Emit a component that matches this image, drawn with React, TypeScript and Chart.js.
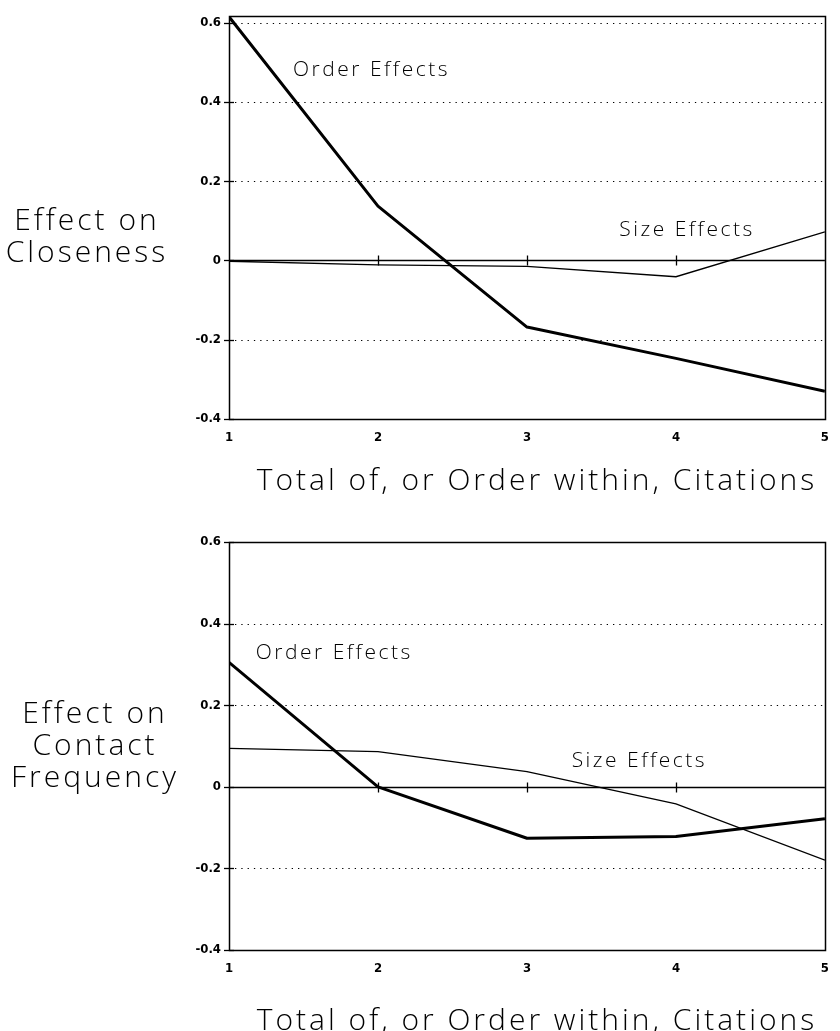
import React, { useEffect, useRef } from "react";
import { Chart, registerables } from "chart.js";

Chart.register(...registerables);

// ---- data ----
const citations = [1, 2, 3, 4, 5];
const yTickValues = [-0.4, -0.2, 0, 0.2, 0.4, 0.6];
const xTickValues = [1, 2, 3, 4, 5];
const seriesNames = ["Order Effects", "Size Effects"];
const closenessOrder = [0.615, 0.137, -0.168, -0.247, -0.33];
const closenessSize = [-0.002, -0.011, -0.015, -0.041, 0.072];
const contactOrder = [0.305, 0.0, -0.126, -0.122, -0.078];
const contactSize = [0.094, 0.086, 0.037, -0.042, -0.18];
const xTitle = "Total of, or Order within, Citations";
const closenessTitle = ["Effect on", "Closeness"];
const contactTitle = ["Effect on", "Contact", "Frequency"];

const TITLE_FONT = '300 30px "Open Sans", "DejaVu Sans", sans-serif';
const NOTE_FONT = '300 21px "Open Sans", "DejaVu Sans", sans-serif';
const TICK_FAMILY = '"DejaVu Sans Condensed", "Liberation Sans Narrow", "DejaVu Sans", sans-serif';

type Note = { text: string; x: number; y: number };
type Panel = {
  top: number;
  height: number;
  padTop: number;
  axisHeight: number;
  yMax: number;
  order: number[];
  size: number[];
  yTitle: string[];
  yTitleCenter: number;
  yTitleFirstBaseline: number;
  xTitleBaseline: number;
  notes: Note[];
};

const panels: Panel[] = [
  {
    top: 0,
    height: 515,
    padTop: 10,
    axisHeight: 96,
    yMax: 0.6174,
    order: closenessOrder,
    size: closenessSize,
    yTitle: closenessTitle,
    yTitleCenter: 87,
    yTitleFirstBaseline: 230,
    xTitleBaseline: 490,
    notes: [
      { text: seriesNames[0], x: 1.43, y: 0.465 },
      { text: seriesNames[1], x: 3.62, y: 0.062 },
    ],
  },
  {
    top: 515,
    height: 516,
    padTop: 27,
    axisHeight: 81,
    yMax: 0.6,
    order: contactOrder,
    size: contactSize,
    yTitle: contactTitle,
    yTitleCenter: 95,
    yTitleFirstBaseline: 208,
    xTitleBaseline: 515,
    notes: [
      { text: seriesNames[0], x: 1.18, y: 0.313 },
      { text: seriesNames[1], x: 3.3, y: 0.049 },
    ],
  },
];

function fmt(v: number): string {
  if (Math.abs(v) < 1e-9) return "0";
  return v.toFixed(1);
}

function makeFramePlugin(panel: Panel) {
  return {
    id: "frame",
    beforeDatasetsDraw(chart: any) {
      const ctx = chart.ctx as CanvasRenderingContext2D;
      const { left, right, top, bottom } = chart.chartArea;
      const xs = chart.scales.x;
      const ys = chart.scales.y;
      ctx.save();
      ctx.strokeStyle = "#000";
      // dotted grid
      ctx.lineWidth = 1.2;
      ctx.setLineDash([1.3, 5]);
      for (const v of yTickValues) {
        if (v === 0 || v === -0.4) continue;
        const y = Math.round(ys.getPixelForValue(v)) + 0.5;
        if (Math.abs(y - top) < 2) continue;
        ctx.beginPath();
        ctx.moveTo(left + 6, y);
        ctx.lineTo(right, y);
        ctx.stroke();
      }
      ctx.setLineDash([]);
      // zero line
      const y0 = Math.round(ys.getPixelForValue(0)) + 0.5;
      ctx.lineWidth = 1.3;
      ctx.beginPath();
      ctx.moveTo(left, y0);
      ctx.lineTo(right, y0);
      ctx.stroke();
      // ticks on zero line
      for (const v of xTickValues) {
        if (v === 1 || v === 5) continue;
        const x = Math.round(xs.getPixelForValue(v)) + 0.5;
        ctx.beginPath();
        ctx.moveTo(x, y0 - 5);
        ctx.lineTo(x, y0 + 5);
        ctx.stroke();
      }
      // y ticks crossing axis
      for (const v of yTickValues) {
        const y = Math.round(ys.getPixelForValue(v)) + 0.5;
        ctx.beginPath();
        ctx.moveTo(left - 5, y);
        ctx.lineTo(left + 5, y);
        ctx.stroke();
      }
      // frame
      ctx.lineWidth = 1.5;
      ctx.beginPath();
      ctx.rect(Math.round(left) + 0.5, Math.round(top) + 0.5, Math.round(right - left), Math.round(bottom - top));
      ctx.stroke();
      ctx.restore();
    },
    afterDraw(chart: any) {
      const ctx = chart.ctx as CanvasRenderingContext2D;
      const { left, right } = chart.chartArea;
      const xs = chart.scales.x;
      const ys = chart.scales.y;
      ctx.save();
      ctx.fillStyle = "#000";
      // annotations
      ctx.font = NOTE_FONT;
      (ctx as any).letterSpacing = "2.5px";
      ctx.textAlign = "left";
      ctx.textBaseline = "alphabetic";
      for (const n of panel.notes) {
        ctx.fillText(n.text, xs.getPixelForValue(n.x), ys.getPixelForValue(n.y));
      }
      // titles
      ctx.font = TITLE_FONT;
      (ctx as any).letterSpacing = "3px";
      ctx.textAlign = "center";
      ctx.fillText(xTitle, (left + right) / 2 + 10, panel.xTitleBaseline);
      panel.yTitle.forEach((line, i) => {
        ctx.fillText(line, panel.yTitleCenter, panel.yTitleFirstBaseline + i * 32);
      });
      ctx.restore();
    },
  };
}

function PanelChart({ panel }: { panel: Panel }) {
  const ref = useRef<HTMLCanvasElement | null>(null);
  useEffect(() => {
    if (!ref.current) return;
    const chart = new Chart(ref.current, {
      type: "line",
      data: {
        datasets: [
          {
            label: seriesNames[0],
            data: citations.map((c, i) => ({ x: c, y: panel.order[i] })),
            borderColor: "#000",
            borderWidth: 3,
            pointRadius: 0,
            tension: 0,
            borderJoinStyle: "round",
          },
          {
            label: seriesNames[1],
            data: citations.map((c, i) => ({ x: c, y: panel.size[i] })),
            borderColor: "#000",
            borderWidth: 1.3,
            pointRadius: 0,
            tension: 0,
          },
        ],
      },
      options: {
        responsive: false,
        animation: false,
        devicePixelRatio: 1,
        layout: { padding: { left: 0, right: 4, top: panel.padTop, bottom: 0 } },
        plugins: { legend: { display: false }, tooltip: { enabled: false } },
        scales: {
          x: {
            type: "linear",
            min: 1,
            max: 5,
            grid: { display: false, drawTicks: false },
            border: { display: false },
            afterBuildTicks: (s: any) => {
              s.ticks = xTickValues.map((v) => ({ value: v }));
            },
            ticks: {
              autoSkip: false,
              maxRotation: 0,
              padding: 11,
              color: "#000",
              font: { family: TICK_FAMILY, size: 13, weight: "bold" },
              callback: (v: any) => String(v),
            },
            afterFit: (s: any) => {
              s.height = panel.axisHeight;
            },
          },
          y: {
            type: "linear",
            min: -0.4,
            max: panel.yMax,
            grid: { display: false, drawTicks: false },
            border: { display: false },
            afterBuildTicks: (s: any) => {
              s.ticks = yTickValues.map((v) => ({ value: v }));
            },
            ticks: {
              autoSkip: false,
              padding: 8,
              color: "#000",
              font: { family: TICK_FAMILY, size: 13, weight: "bold" },
              callback: (v: any) => fmt(Number(v)),
            },
            afterFit: (s: any) => {
              s.width = 229;
            },
          },
        },
      } as any,
      plugins: [makeFramePlugin(panel)],
    });
    return () => chart.destroy();
  }, [panel]);
  return (
    <canvas
      ref={ref}
      width={840}
      height={panel.height}
      style={{ position: "absolute", left: 0, top: panel.top, width: 840, height: panel.height }}
    />
  );
}

export default function App() {
  return (
    <div style={{ position: "absolute", left: 0, top: 0, width: 840, height: 1031, background: "#fff" }}>
      {panels.map((p, i) => (
        <PanelChart key={i} panel={p} />
      ))}
    </div>
  );
}
